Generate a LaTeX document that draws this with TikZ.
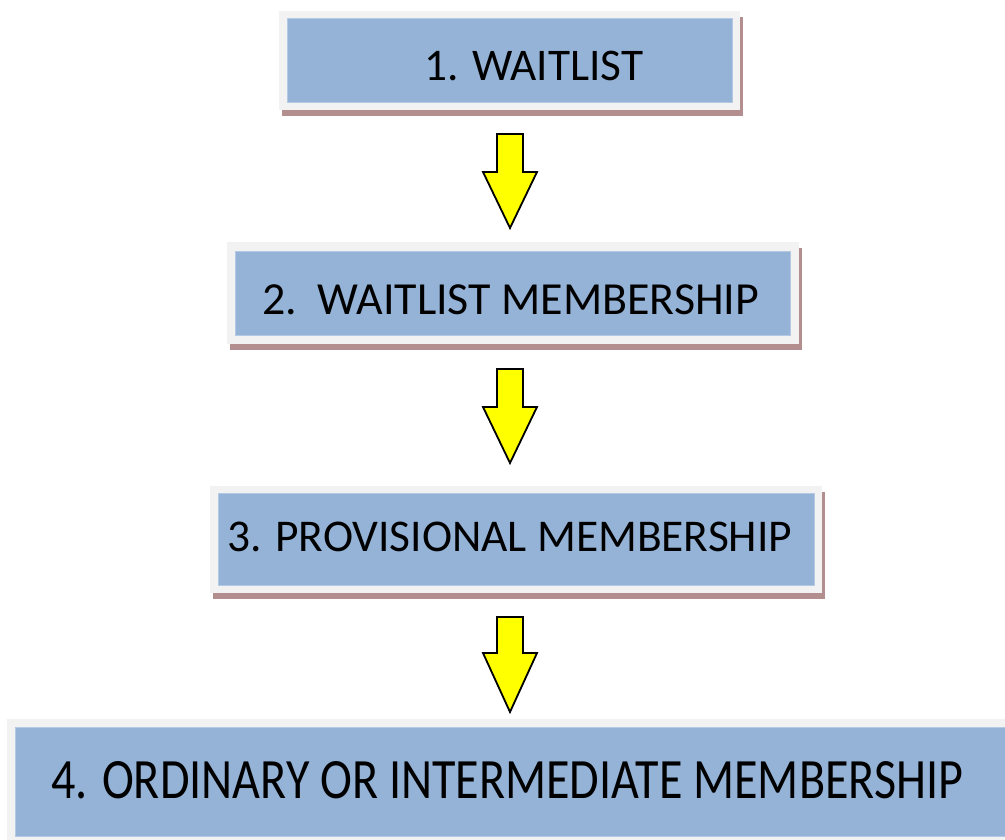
\documentclass[tikz,border=0pt]{standalone}
\usepackage{fontspec}
\setmainfont{Carlito}
\usetikzlibrary{calc,shadows}
\definecolor{boxblue}{HTML}{95B3D7}
\definecolor{framegray}{HTML}{F2F2F2}
\definecolor{shadowc}{HTML}{B38E8E}
\definecolor{edgeblue}{HTML}{B4C9E4}
\definecolor{arrowyellow}{HTML}{FFFF00}
\tikzset{
  framebox/.style={rectangle, fill=framegray, draw=none, inner sep=0pt,
    drop shadow={shadow xshift=3pt, shadow yshift=-5.5pt, fill=shadowc, opacity=1}},
  innerbox/.style={rectangle, fill=boxblue, draw=edgeblue, line width=0.6pt, inner sep=0pt},
  lbl/.style={anchor=base west, inner sep=0pt, text=black, font=\fontsize{44}{50}\selectfont},
  yarrow/.style={draw=black, fill=arrowyellow, line width=1.8pt, line join=miter}
}
\newcommand\yarrowdraw[3]{% top, head, tip coordinates
  \draw[yarrow] ($(#1)+(-13,0)$) -- ($(#1)+(13,0)$) -- ($(#2)+(13,0)$) -- ($(#2)+(27,0)$)
    -- (#3) -- ($(#2)+(-27,0)$) -- ($(#2)+(-13,0)$) -- cycle;}
\begin{document}
\begin{tikzpicture}[x=1pt,y=-1pt]
\useasboundingbox (0,0) rectangle (1005,839);
% boxes
\node[framebox, minimum width=461pt, minimum height=99pt] (b1) at (509.5,60.5) {};
\node[innerbox, minimum width=445pt, minimum height=84pt] (i1) at (b1.center) {};
\node[framebox, minimum width=572pt, minimum height=102pt] (b2) at (513,293) {};
\node[innerbox, minimum width=555pt, minimum height=84pt] (i2) at (b2.center) {};
\node[framebox, minimum width=612pt, minimum height=107pt] (b3) at (516,539.5) {};
\node[innerbox, minimum width=596pt, minimum height=92pt] (i3) at (b3.center) {};
\node[framebox, minimum width=1006pt, minimum height=125pt] (b4) at (510,781.5) {};
\node[innerbox, minimum width=990pt, minimum height=109pt] (i4) at (b4.center) {};
% labels
\node[lbl] (t1) at (424,80) {\resizebox{219pt}{!}{1. WAITLIST}};
\node[lbl] (t2) at (262,314) {\resizebox{497pt}{!}{2.\ \ WAITLIST MEMBERSHIP}};
\node[lbl] (t3) at (227,551) {\resizebox{565pt}{!}{3. PROVISIONAL MEMBERSHIP}};
\node[lbl] (t4) at (51,798) {\resizebox{912pt}{37pt}{4. ORDINARY OR INTERMEDIATE MEMBERSHIP}};
% arrows
\coordinate (a1t) at (510,134); \coordinate (a1h) at (510,172); \coordinate (a1p) at (510,228);
\coordinate (a2t) at (510,369); \coordinate (a2h) at (510,407); \coordinate (a2p) at (510,463);
\coordinate (a3t) at (510,617); \coordinate (a3h) at (510,653); \coordinate (a3p) at (510,712);
\yarrowdraw{a1t}{a1h}{a1p}
\yarrowdraw{a2t}{a2h}{a2p}
\yarrowdraw{a3t}{a3h}{a3p}
\end{tikzpicture}
\end{document}
